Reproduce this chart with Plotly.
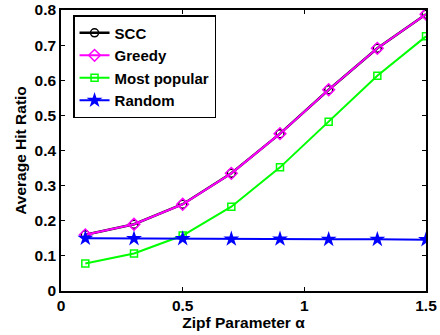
import plotly.graph_objects as go

alpha = [0.1, 0.3, 0.5, 0.7, 0.9, 1.1, 1.3, 1.5]
scc = [0.160, 0.190, 0.247, 0.335, 0.448, 0.573, 0.691, 0.788]
greedy = [0.160, 0.190, 0.247, 0.335, 0.448, 0.573, 0.691, 0.788]
most_popular = [0.078, 0.107, 0.158, 0.240, 0.352, 0.482, 0.613, 0.725]
random_ = [0.150, 0.149, 0.149, 0.148, 0.148, 0.147, 0.147, 0.146]

fig = go.Figure()
fig.add_trace(go.Scatter(x=alpha, y=scc, name="SCC", mode="lines+markers",
                         line=dict(color="black", width=2.5),
                         marker=dict(symbol="circle-open", size=8, color="black", line=dict(width=1.5))))
fig.add_trace(go.Scatter(x=alpha, y=greedy, name="Greedy", mode="lines+markers",
                         line=dict(color="#ff00ff", width=2),
                         marker=dict(symbol="diamond-open", size=9, color="#ff00ff", line=dict(width=1.5))))
fig.add_trace(go.Scatter(x=alpha, y=most_popular, name="Most popular", mode="lines+markers",
                         line=dict(color="#00ff00", width=2),
                         marker=dict(symbol="square-open", size=7, color="#00ff00", line=dict(width=1.5))))
fig.add_trace(go.Scatter(x=alpha, y=random_, name="Random", mode="lines+markers",
                         line=dict(color="#0000ff", width=2),
                         marker=dict(symbol="star", size=12, color="#0000ff")))

font = dict(family="Liberation Sans", size=15.5, color="black", weight="bold")
legend_font = dict(family="Liberation Sans", size=15, color="black", weight="bold")
axis_common = dict(showline=True, linecolor="black", linewidth=1.5, mirror="allticks",
                   ticks="inside", ticklen=4, tickcolor="black", showgrid=False, zeroline=False,
                   automargin=False, tickfont=font)
fig.update_xaxes(range=[0, 1.5], tickvals=[0, 0.5, 1, 1.5], ticktext=["0", "0.5", "1", "1.5"],
                 title=dict(text="Zipf Parameter α", standoff=4, font=font),
                 **axis_common)
fig.update_yaxes(range=[0, 0.8], tickvals=[0, 0.1, 0.2, 0.3, 0.4, 0.5, 0.6, 0.7, 0.8],
                 ticktext=["0", "0.1", "0.2", "0.3", "0.4", "0.5", "0.6", "0.7", "0.8"],
                 title=dict(text="Average Hit Ratio", standoff=4, font=font),
                 **axis_common)
fig.update_layout(width=440, height=335, margin=dict(l=61, r=14, t=10, b=44),
                  plot_bgcolor="white", paper_bgcolor="white",
                  legend=dict(x=0.033, y=0.982, xanchor="left", yanchor="top",
                              bordercolor="black", borderwidth=1.5, bgcolor="white",
                              font=legend_font, tracegroupgap=0, itemwidth=30))
fig.write_html("out.html")
